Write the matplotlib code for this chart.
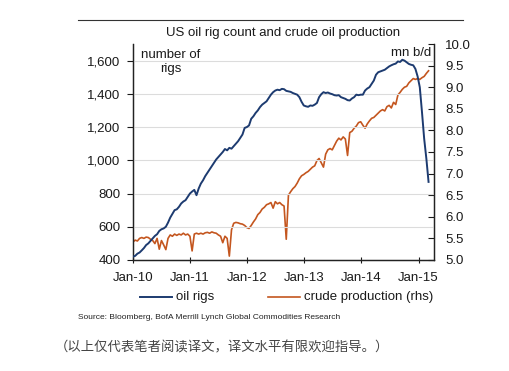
import matplotlib
matplotlib.use("Agg")
import matplotlib.pyplot as plt
import pandas as pd
from matplotlib.lines import Line2D

plt.rcParams['font.family'] = ['Liberation Sans', 'DejaVu Sans']

# biweekly observations starting 2010-01-01
start_date = "2010-01-01"
oil_rigs = [
    420, 425, 438, 445, 458, 472, 490, 500, 515, 530, 545, 555, 575, 585, 590, 600,
    625, 655, 678, 700, 705, 720, 740, 752, 760, 780, 800,
    812, 822, 790, 830, 860, 880, 905, 925, 945, 965, 985, 1005, 1020, 1035, 1050,
    1068, 1060, 1075, 1070, 1085, 1100, 1115, 1135, 1155, 1195, 1200,
    1210, 1250, 1265, 1285, 1300, 1320, 1335, 1345, 1355, 1375, 1395, 1410, 1420,
    1425, 1422, 1430, 1428, 1418, 1415, 1412, 1405, 1400, 1395, 1380, 1352, 1330,
    1325, 1322, 1330, 1328, 1335, 1345, 1380, 1398, 1410, 1405, 1408, 1402, 1398,
    1392, 1390, 1392, 1380, 1375, 1370, 1362, 1360, 1372, 1380, 1395, 1392, 1395,
    1395, 1420, 1432, 1440, 1460, 1480, 1515, 1530, 1535, 1540, 1545, 1555, 1565,
    1572, 1578, 1582, 1595, 1592, 1605, 1600, 1590, 1580, 1575, 1572, 1550, 1505,
    1440, 1290, 1130, 1010, 870,
]
crude_production = [
    5.42, 5.46, 5.44, 5.50, 5.52, 5.50, 5.53, 5.52, 5.48, 5.45, 5.38, 5.50, 5.25,
    5.45, 5.35, 5.24, 5.50, 5.58, 5.55, 5.60, 5.57, 5.60, 5.58, 5.62, 5.58, 5.60, 5.55,
    5.21, 5.60, 5.62, 5.60, 5.62, 5.60, 5.63, 5.64, 5.62, 5.65, 5.63, 5.62, 5.58,
    5.55, 5.40, 5.55, 5.50, 5.09, 5.70, 5.85, 5.87, 5.86, 5.84, 5.83, 5.80, 5.75,
    5.73, 5.80, 5.88, 5.95, 6.05, 6.10, 6.18, 6.22, 6.28, 6.30, 6.33, 6.20, 6.35,
    6.30, 6.33, 6.28, 6.25, 5.48, 6.50, 6.58, 6.65, 6.70, 6.78, 6.88, 6.95, 6.98,
    7.02, 7.05, 7.10, 7.15, 7.18, 7.30, 7.35, 7.25, 7.15, 7.45, 7.55, 7.58, 7.55,
    7.65, 7.75, 7.82, 7.78, 7.85, 7.80, 7.42, 7.95, 7.98, 8.05, 8.10, 8.18, 8.20,
    8.12, 8.05, 8.15, 8.22, 8.28, 8.30, 8.35, 8.40, 8.45, 8.48, 8.45, 8.55, 8.58,
    8.52, 8.65, 8.60, 8.82, 8.88, 8.95, 9.00, 9.02, 9.10, 9.15, 9.20, 9.18, 9.20,
    9.18, 9.22, 9.25, 9.32, 9.38,
]
x_tick_labels = ["Jan-10", "Jan-11", "Jan-12", "Jan-13", "Jan-14", "Jan-15"]
left_ticks = [400, 600, 800, 1000, 1200, 1400, 1600]
right_ticks = [5.0, 5.5, 6.0, 6.5, 7.0, 7.5, 8.0, 8.5, 9.0, 9.5, 10.0]
series_names = ["oil rigs", "crude production (rhs)"]

dates = pd.date_range(start_date, periods=len(oil_rigs), freq="14D")

BLUE = "#1d3b70"
ORANGE = "#c4561f"
TXT = "#1a1a1a"

fig = plt.figure(figsize=(5.09, 3.71), dpi=100)
ax = fig.add_axes([0.2613, 0.2992, 0.5914, 0.5822])
ax2 = ax.twinx()

ax.plot(dates, oil_rigs, color=BLUE, lw=1.4, zorder=3)
ax2.plot(dates, crude_production, color=ORANGE, lw=1.2, zorder=2)
ax.set_zorder(ax2.get_zorder() + 1)
ax.patch.set_visible(False)

ax.set_ylim(400, 1700)
ax.set_yticks(left_ticks)
ax.set_yticklabels([f"{v:,}" for v in left_ticks])
ax2.set_ylim(5, 10)
ax2.set_yticks(right_ticks)
ax2.set_yticklabels([f"{v:.1f}" for v in right_ticks])

ax.set_xlim(pd.Timestamp("2010-01-01"), pd.Timestamp("2015-04-10"))
xt = [pd.Timestamp(f"20{lab[-2:]}-01-01") for lab in x_tick_labels]
ax.set_xticks(xt)
ax.set_xticklabels(x_tick_labels)

ax.yaxis.grid(True, color="#dcdcdc", lw=0.8)
ax.set_axisbelow(True)

for a in (ax, ax2):
    a.spines['top'].set_visible(False)
    for s in ('left', 'right', 'bottom'):
        a.spines[s].set_color("#222222")
        a.spines[s].set_linewidth(0.9)
ax.tick_params(axis='y', direction='out', length=4, labelsize=9.5, colors=TXT, pad=5)
ax.tick_params(axis='x', direction='inout', length=5, labelsize=9.5, colors=TXT, pad=6)
ax2.tick_params(axis='y', direction='in', length=4, labelsize=9.5, colors=TXT, pad=8)

fig.text(0.556, 0.911, "US oil rig count and crude oil production", ha='center', va='center',
         fontsize=9.5, color=TXT)
ax.text(0.125, 0.975, "number of\nrigs", transform=ax.transAxes, ha='center', va='top',
        fontsize=9.5, linespacing=1.2, color=TXT)
ax.text(0.99, 0.985, "mn b/d", transform=ax.transAxes, ha='right', va='top',
        fontsize=9.5, color=TXT)

# legend drawn manually
ly = 1 - 297 / 371
fig.add_artist(Line2D([140 / 509, 172 / 509], [ly, ly], transform=fig.transFigure,
                      color=BLUE, lw=1.4))
fig.text(176 / 509, ly, series_names[0], fontsize=9.5, color=TXT, va='center')
fig.add_artist(Line2D([268 / 509, 300 / 509], [ly, ly], transform=fig.transFigure,
                      color=ORANGE, lw=1.2))
fig.text(304 / 509, ly, series_names[1], fontsize=9.5, color=TXT, va='center')

fig.text(0.153, 0.143, "Source: Bloomberg, BofA Merrill Lynch Global Commodities Research",
         fontsize=6.0, color="#222222", va='center')

fig.text(0.108, 0.063, "（以上仅代表笔者阅读译文，译文水平有限欢迎指导。）",
         family=['Noto Sans CJK SC', 'DejaVu Sans'], fontsize=9.6, color="#444444", va='center')

fig.add_artist(Line2D([0.153, 0.91], [0.946, 0.946], transform=fig.transFigure,
                      color="#333333", lw=0.8))

fig.savefig("out.png", dpi=100)
